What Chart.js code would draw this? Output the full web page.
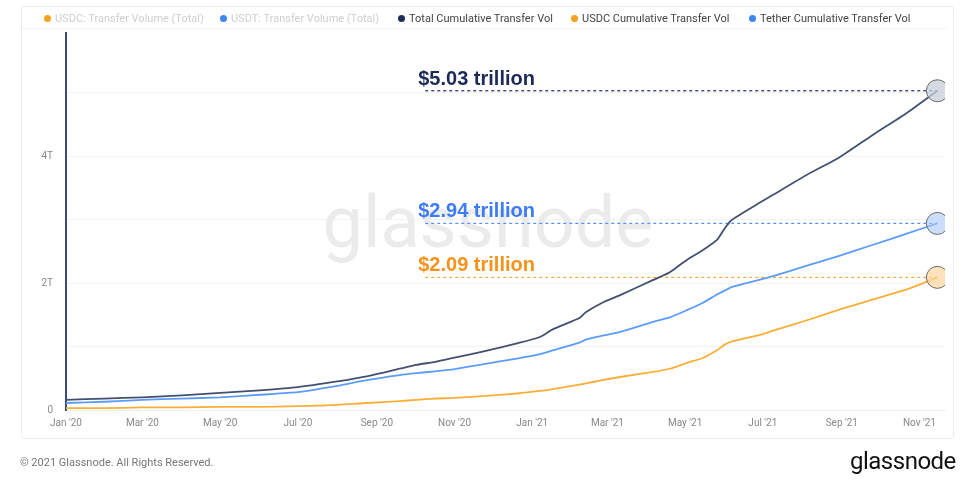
<!DOCTYPE html>
<html>
<head>
<meta charset="utf-8">
<script src="https://cdn.jsdelivr.net/npm/chart.js@4.4.1/dist/chart.umd.min.js"></script>
<style>
  body { margin: 0; background: #fff; font-family: Roboto, "Noto Sans", sans-serif; }
  #wrap { position: relative; width: 974px; height: 487px; overflow: hidden; }
  #panel { position: absolute; left: 21px; top: 6px; width: 931px; height: 431px; border: 1px solid #ececec; border-radius: 3px; }
  #sep { position: absolute; left: 22px; top: 28px; width: 924px; height: 1px; background: #f1f1f1; }
  #legend { position: absolute; left: 0; top: 12px; height: 14px; width: 974px; font-size: 11px; }
  .item { position: absolute; top: 0; white-space: nowrap; line-height: 14px; }
  .dot { display: inline-block; width: 7px; height: 7px; border-radius: 50%; margin-right: 4px; vertical-align: 0px; }
  canvas { position: absolute; left: 0; top: 0; }
  #copy { position: absolute; left: 20px; top: 456px; font-size: 11px; color: #777; }
  #logo { position: absolute; left: 850px; top: 447px; font-size: 24px; color: #111; letter-spacing: -0.5px; }
</style>
</head>
<body>
<div id="wrap">
  <div id="panel"></div>
  <div id="sep"></div>
  <canvas id="myChart" width="974" height="487"></canvas>
  <div id="legend"></div>
  <div id="copy">© 2021 Glassnode. All Rights Reserved.</div>
  <div id="logo">glassnode</div>
</div>
<script>
// days since 1 Jan 2020
const days = [0, 30, 60, 91, 121, 152, 182, 213, 236, 262, 275, 290, 304, 327, 354, 372, 382, 403, 408,
  421, 435, 461, 474, 487, 500, 511, 517, 523, 544, 555, 581, 607, 633, 660, 684];

// trillions of USD
const totalVol = [0.16, 0.18, 0.20, 0.23, 0.27, 0.31, 0.36, 0.45, 0.53, 0.65, 0.71, 0.76, 0.82, 0.92, 1.05, 1.15, 1.27, 1.45, 1.54,
  1.69, 1.81, 2.05, 2.17, 2.36, 2.52, 2.68, 2.86, 3.00, 3.26, 3.39, 3.70, 3.98, 4.33, 4.68, 5.03];
const tetherVol = [0.11, 0.13, 0.16, 0.18, 0.20, 0.24, 0.28, 0.38, 0.47, 0.55, 0.58, 0.61, 0.64, 0.72, 0.81, 0.88, 0.94, 1.06, 1.11,
  1.17, 1.23, 1.39, 1.46, 1.57, 1.69, 1.82, 1.88, 1.94, 2.05, 2.11, 2.27, 2.43, 2.60, 2.78, 2.94];
const usdcVol = [0.03, 0.03, 0.04, 0.04, 0.05, 0.05, 0.06, 0.08, 0.11, 0.14, 0.16, 0.18, 0.19, 0.22, 0.26, 0.30, 0.33, 0.40, 0.42,
  0.47, 0.52, 0.60, 0.65, 0.74, 0.82, 0.94, 1.03, 1.08, 1.18, 1.25, 1.41, 1.58, 1.74, 1.90, 2.09];

const tickDays = [0, 60, 121, 182, 244, 305, 366, 425, 486, 547, 609, 670];
const tickLabels = ["Jan '20", "Mar '20", "May '20", "Jul '20", "Sep '20", "Nov '20", "Jan '21", "Mar '21", "May '21", "Jul '21", "Sep '21", "Nov '21"];

const legendNames = ['USDC: Transfer Volume (Total)', 'USDT: Transfer Volume (Total)', 'Total Cumulative Transfer Vol', 'USDC Cumulative Transfer Vol', 'Tether Cumulative Transfer Vol'];
const legendDots = ['#f7a21e', '#3f86f5', '#1f2d5c', '#f7a21e', '#3f86f5'];
const legendText = ['#cfcfcf', '#cfcfcf', '#444', '#444', '#444'];
const legendLeft = [44, 220, 398, 571, 749];

const annLabels = ['$5.03 trillion', '$2.94 trillion', '$2.09 trillion'];
const annValues = [5.03, 2.94, 2.09];
const annColors = ['#1c2a55', '#3d7cf4', '#f7931a'];
const dashColors = ['#1c2a55', '#5a90f5', '#f9a23a'];
const annStartDay = 282;

const legendEl = document.getElementById('legend');
legendNames.forEach((name, i) => {
  const d = document.createElement('div');
  d.className = 'item';
  d.style.left = legendLeft[i] + 'px';
  d.style.color = legendText[i];
  d.innerHTML = '<span class="dot" style="background:' + legendDots[i] + '"></span>' + name;
  legendEl.appendChild(d);
});

function pts(vals){ return vals.map((v, i) => ({x: days[i], y: v})); }
function lastBig(n){ return days.map((d, i) => i === n - 1 ? 11 : 0); }

const lineColors = ['#44506f', '#5c9cf7', '#f9ae38'];
const dotFills = ['rgba(200,206,216,0.75)', 'rgba(170,200,250,0.6)', 'rgba(252,214,160,0.7)'];

const seriesSets = [totalVol, tetherVol, usdcVol].map((vals, i) => ({
  data: pts(vals),
  borderColor: lineColors[i],
  borderWidth: 1.8,
  tension: 0.2,
  pointRadius: lastBig(vals.length),
  pointHoverRadius: lastBig(vals.length),
  pointBackgroundColor: dotFills[i],
  pointBorderColor: '#6a6a6a',
  pointBorderWidth: 1,
  order: 1
}));

const dashSets = annValues.map((v, i) => ({
  data: [{x: annStartDay, y: v}, {x: days[days.length - 1], y: v}],
  borderColor: dashColors[i],
  borderWidth: 1.2,
  borderDash: [3, 3],
  pointRadius: 0,
  order: 2
}));

const watermark = {
  id: 'watermark',
  beforeDatasetsDraw(chart) {
    const ctx = chart.ctx;
    ctx.save();
    ctx.font = '400 72px Roboto';
    ctx.fillStyle = '#ebebeb';
    ctx.textAlign = 'center';
    ctx.fillText('glassnode', 488, 247);
    ctx.restore();
  }
};

const annText = {
  id: 'annText',
  afterDatasetsDraw(chart) {
    const ctx = chart.ctx;
    const xs = chart.scales.x, ys = chart.scales.y;
    ctx.save();
    ctx.font = 'bold 20px "Liberation Sans", Arial';
    ctx.textAlign = 'left';
    annValues.forEach((v, i) => {
      ctx.fillStyle = annColors[i];
      ctx.fillText(annLabels[i], xs.getPixelForValue(annStartDay) - 7, ys.getPixelForValue(v) - 6);
    });
    ctx.restore();
  }
};

const config = {
  type: 'line',
  data: { datasets: seriesSets.concat(dashSets) },
  options: {
    responsive: false,
    animation: false,
    layout: { padding: { left: 0, right: 29, top: 33, bottom: 50 } },
    plugins: { legend: { display: false }, tooltip: { enabled: false } },
    scales: {
      x: {
        type: 'linear',
        min: 0,
        max: 690,
        afterBuildTicks: s => { s.ticks = tickDays.map(v => ({value: v})); },
        afterFit: s => { s.height = 27; },
        ticks: {
          callback: v => tickLabels[tickDays.indexOf(v)],
          color: '#888',
          font: { size: 10, family: 'Roboto' },
          padding: 7,
          maxRotation: 0,
          autoSkip: false
        },
        grid: { display: false, drawTicks: false },
        border: { color: '#eeeeee' }
      },
      y: {
        min: 0,
        max: 5.94,
        afterBuildTicks: s => { s.ticks = [0, 1, 2, 3, 4, 5].map(v => ({value: v})); },
        afterFit: s => { s.width = 66; },
        ticks: {
          callback: v => v === 0 ? '0' : (v % 2 === 0 ? v + 'T' : ''),
          color: '#888',
          font: { size: 10, family: 'Roboto' },
          padding: 13
        },
        grid: { color: '#f3f3f3', drawTicks: false },
        border: { color: '#3b4a7a', width: 2 }
      }
    }
  },
  plugins: [watermark, annText]
};

const myChart = new Chart(document.getElementById('myChart'), config);
</script>
</body>
</html>
